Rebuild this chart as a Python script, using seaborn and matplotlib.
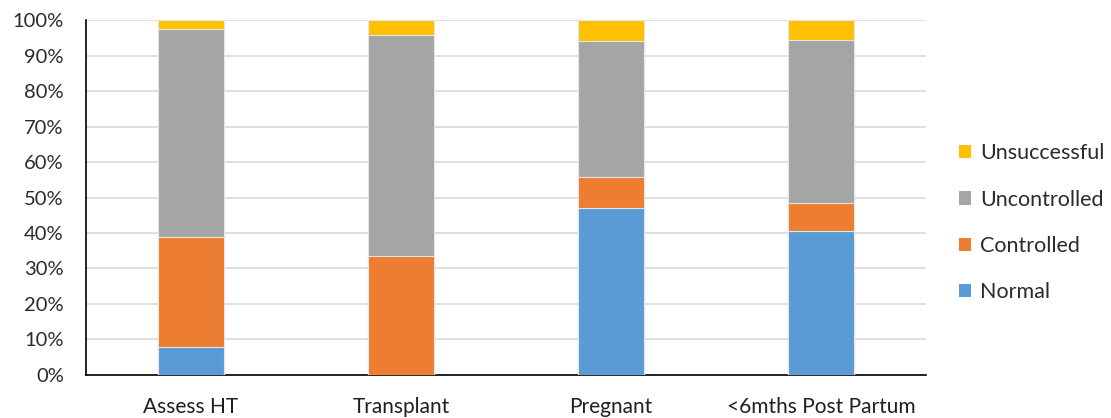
import numpy as np
import pandas as pd
import matplotlib
matplotlib.use("Agg")
import matplotlib.pyplot as plt
import seaborn as sns
from matplotlib.patches import Patch

# Outcome shares (%) per patient group
groups = ["Assess HT", "Transplant", "Pregnant", "<6mths Post Partum"]
normal = [8.0, 0.0, 47.1, 40.6]
controlled = [30.8, 33.5, 8.8, 7.9]
uncontrolled = [58.6, 62.4, 38.1, 46.0]
unsuccessful = [2.6, 4.1, 6.0, 5.5]

series_names = ["Normal", "Controlled", "Uncontrolled", "Unsuccessful"]
series_colors = ["#5B9BD5", "#ED7D31", "#A5A5A5", "#FFC000"]

df = pd.DataFrame({
    "group": groups,
    "Normal": normal,
    "Controlled": controlled,
    "Uncontrolled": uncontrolled,
    "Unsuccessful": unsuccessful,
})

sns.set_theme(style="white")
plt.rcParams["font.family"] = ["Lato", "DejaVu Sans"]

fig = plt.figure(figsize=(11.11, 4.18), dpi=100)
ax = fig.add_axes([0.0774, 0.103, 0.7561, 0.849])

# Stacked bars: draw cumulative totals from the top segment down
cum = df[series_names].cumsum(axis=1)
for name, color in reversed(list(zip(series_names, series_colors))):
    sns.barplot(x=df["group"], y=cum[name], color=color, width=0.31,
                edgecolor="#E6E6E6", linewidth=0.8, saturation=1,
                ax=ax, zorder=3)

ax.set_ylim(0, 100)
ax.set_xlim(-0.5, len(groups) - 0.5)
ax.set_yticks(np.arange(0, 101, 10))
ax.set_yticklabels([f"{v}%" for v in range(0, 101, 10)])
ax.yaxis.grid(True, color="#D9D9D9", linewidth=1.2, zorder=0)
ax.set_axisbelow(True)
ax.set_xlabel("")
ax.set_ylabel("")

for side in ["top", "right"]:
    ax.spines[side].set_visible(False)
for side in ["left", "bottom"]:
    ax.spines[side].set_color("#000000")
    ax.spines[side].set_linewidth(1.2)

ax.tick_params(axis="y", length=0, pad=16, labelsize=14.5, labelcolor="#2b2b2b")
ax.tick_params(axis="x", length=0, pad=16, labelsize=15, labelcolor="#1f1f1f")

handles = [Patch(facecolor=c, edgecolor="none") for c in reversed(series_colors)]
labels = list(reversed(series_names))
fig.legend(handles, labels, loc="center left", bbox_to_anchor=(0.846, 0.467),
           frameon=False, fontsize=15.5, handlelength=0.56, handleheight=0.56,
           handletextpad=0.4, labelspacing=1.22, labelcolor="#2b2b2b")

fig.savefig("out.png", dpi=100)
